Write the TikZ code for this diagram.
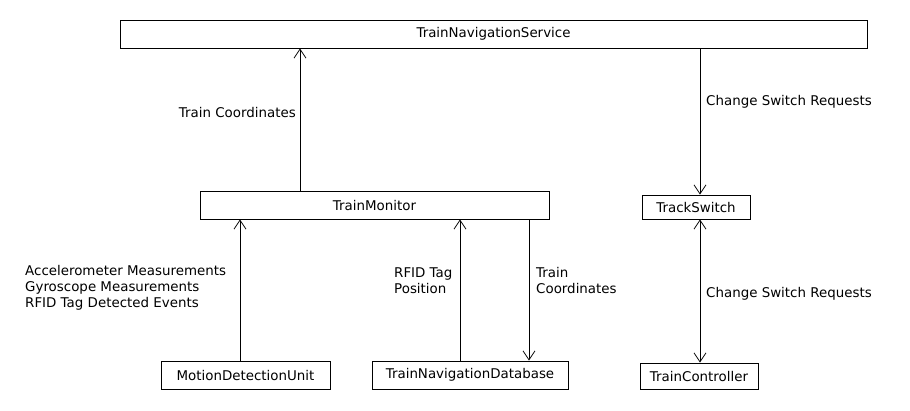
\documentclass[tikz,border=0pt]{standalone}
\usepackage{fontspec}
\setmainfont{DejaVu Sans}
\usetikzlibrary{arrows.meta}
\begin{document}
\begin{tikzpicture}[x=1pt,y=-1pt,
  box/.style={draw, line width=0.8pt, inner sep=0pt, font=\fontsize{13.4}{16}\selectfont},
  arr/.style={line width=0.8pt, -{Straight Barb[length=9pt,width=12pt,line width=0.8pt]}},
  darr/.style={line width=0.8pt, {Straight Barb[length=9pt,width=12pt,line width=0.8pt]}-{Straight Barb[length=9pt,width=12pt,line width=0.8pt]}},
  lbl/.style={inner sep=0pt, align=left, font=\fontsize{13.4}{16}\selectfont}]
\useasboundingbox[fill=white] (0,0) rectangle (910,410);
\node[box, minimum width=747pt, minimum height=28pt] (TNS) at (493.5,34) {TrainNavigationService};
\node[box, minimum width=349pt, minimum height=28pt] (TM) at (374.5,205) {TrainMonitor};
\node[box, minimum width=108pt, minimum height=24pt] (TS) at (696,207) {TrackSwitch};
\node[box, minimum width=169pt, minimum height=28pt] (MDU) at (245.5,375) {MotionDetectionUnit};
\node[box, minimum width=196pt, minimum height=28pt] (TND) at (470,375) {TrainNavigationDatabase};
\node[box, minimum width=118pt, minimum height=26pt] (TC) at (699,376) {TrainController};
\coordinate (c1) at (300,0);
\coordinate (c2) at (700,0);
\coordinate (c3) at (240,0);
\coordinate (c4) at (460,0);
\coordinate (c5) at (529,0);
\draw[arr] (TM.north -| c1) -- (TNS.south -| c1);
\draw[arr] (TNS.south -| c2) -- (TS.north -| c2);
\draw[arr] (MDU.north -| c3) -- (TM.south -| c3);
\draw[arr] (TND.north -| c4) -- (TM.south -| c4);
\draw[arr] (TM.south -| c5) -- (TND.north -| c5);
\draw[darr] (TS.south -| c2) -- (TC.north -| c2);
\node[lbl, anchor=east] (l1) at (296,113) {Train Coordinates};
\node[lbl, anchor=west] (l2) at (706,102) {Change Switch Requests};
\node[lbl, anchor=west] (l3) at (25,288) {Accelerometer Measurements\\Gyroscope Measurements\\RFID Tag Detected Events};
\node[lbl, anchor=west] (l4) at (394,280.5) {RFID Tag\\Position};
\node[lbl, anchor=west] (l5) at (536,280.5) {Train\\Coordinates};
\node[lbl, anchor=west] (l6) at (706,294) {Change Switch Requests};
\end{tikzpicture}
\end{document}
